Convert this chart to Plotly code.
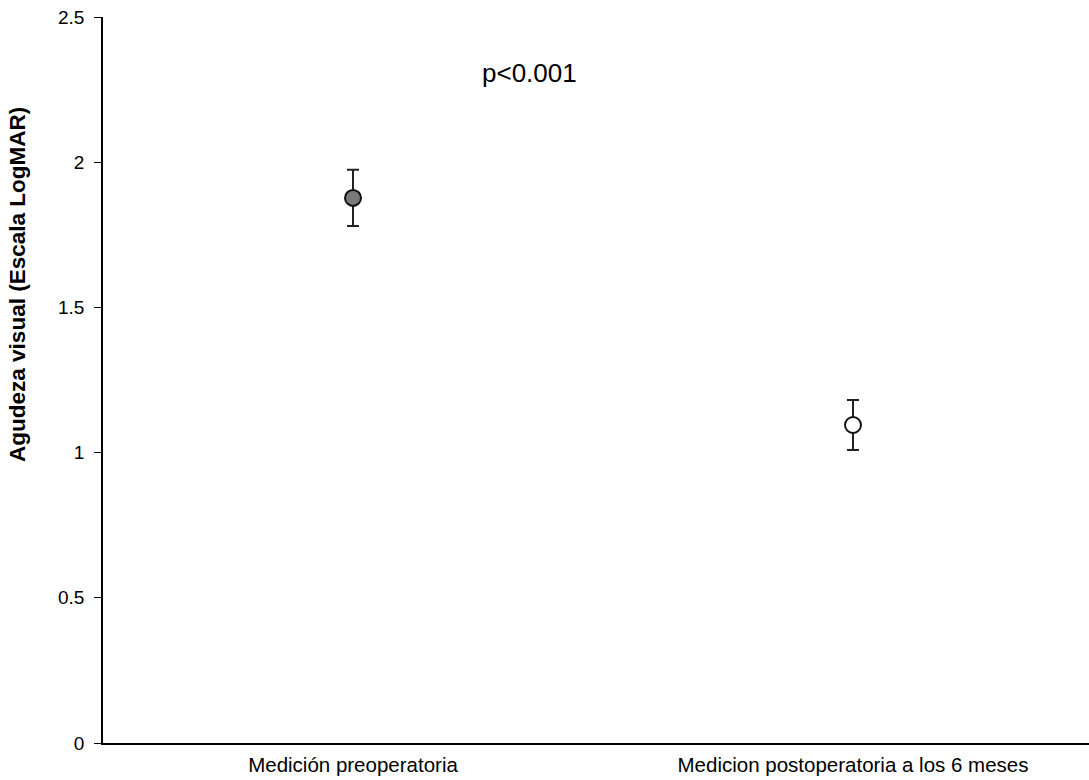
import plotly.graph_objects as go

categories = ["Medición preoperatoria", "Medicion postoperatoria a los 6 meses"]
means = [1.877, 1.095]
errors = [0.097, 0.086]
fill_colors = ["#7a7a7a", "#ffffff"]
y_ticks = [0, 0.5, 1, 1.5, 2, 2.5]
y_tick_text = ["0", "0.5", "1", "1.5", "2", "2.5"]

FONT = "Liberation Sans, Arial, sans-serif"

fig = go.Figure()
for i, cat in enumerate(categories):
    fig.add_trace(go.Scatter(
        x=[i], y=[means[i]],
        mode="markers",
        marker=dict(size=16, color=fill_colors[i], line=dict(color="#111111", width=2)),
        error_y=dict(type="data", array=[errors[i]], visible=True,
                     color="#222222", thickness=2, width=6),
        showlegend=False,
    ))

fig.add_annotation(x=0.352, y=2.307, xref="x", yref="y", text="p<0.001",
                   showarrow=False, font=dict(size=26, color="#000000", family=FONT))

fig.add_annotation(x=-0.0862, y=0.631, xref="paper", yref="paper",
                   text="<b>Agudeza visual (Escala LogMAR)</b>", textangle=-90,
                   showarrow=False, xanchor="center", yanchor="middle",
                   font=dict(size=22.5, color="#000000", family=FONT))

fig.update_layout(
    width=1089, height=780,
    margin=dict(l=103, r=0, t=17, b=37),
    paper_bgcolor="white", plot_bgcolor="white",
    font=dict(family=FONT, color="#000000"),
    xaxis=dict(
        range=[-0.5, 1.472],
        tickmode="array", tickvals=[0, 1], ticktext=categories,
        tickfont=dict(size=20.5), ticks="", showgrid=False, zeroline=False,
        ticklabelstandoff=3,
        showline=True, linecolor="#000000", linewidth=1.5,
    ),
    yaxis=dict(
        range=[0, 2.5],
        tickmode="array", tickvals=y_ticks, ticktext=y_tick_text,
        tickfont=dict(size=19), ticks="outside", ticklen=7, tickcolor="#000000",
        ticklabelstandoff=6,
        showgrid=False, zeroline=False,
        showline=True, linecolor="#000000", linewidth=1.5,
    ),
)

fig.write_html("out.html")
